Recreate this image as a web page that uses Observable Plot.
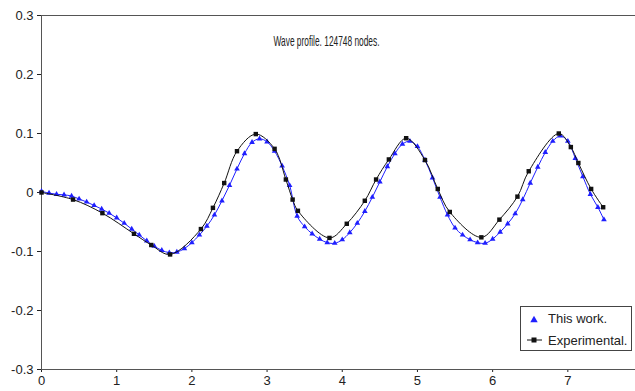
<!DOCTYPE html>
<html>
<head>
<meta charset="utf-8">
<script src="https://cdn.jsdelivr.net/npm/d3@7"></script>
<script src="https://cdn.jsdelivr.net/npm/@observablehq/plot@0.6"></script>
<style>
  html, body { margin: 0; padding: 0; background: #fff; }
  #chart { position: relative; width: 635px; height: 391px; }
</style>
</head>
<body>
<div id="chart"></div>
<script>
const title = "Wave profile. 124748 nodes.";
const seriesNames = ["This work.", "Experimental."];

// Experimental (black squares)
const expX = [0, 0.42, 0.81, 1.23, 1.46, 1.71, 2.12, 2.28, 2.43, 2.60, 2.85, 3.10, 3.25, 3.34, 3.41, 3.83, 4.06, 4.30, 4.45, 4.62, 4.85, 5.10, 5.27, 5.43, 5.85, 6.09, 6.33, 6.48, 6.88, 7.04, 7.14, 7.31, 7.47];
const expY = [0, -0.012, -0.035, -0.070, -0.089, -0.105, -0.062, -0.026, 0.016, 0.070, 0.099, 0.074, 0.022, -0.012, -0.031, -0.077, -0.053, -0.014, 0.022, 0.056, 0.092, 0.055, 0.006, -0.033, -0.076, -0.046, -0.007, 0.036, 0.100, 0.077, 0.050, 0.006, -0.025];

// This work (blue triangles)
const workX = [0.0,0.1,0.2,0.3,0.4,0.5,0.6,0.7,0.8,0.9,1.0,1.1,1.2,1.3,1.4,1.5,1.6,1.7,1.8,1.9,2.0,2.1,2.2,2.3,2.4,2.5,2.6,2.7,2.8,2.9,3.0,3.1,3.2,3.3,3.4,3.5,3.6,3.7,3.8,3.9,4.0,4.1,4.2,4.3,4.4,4.5,4.6,4.7,4.8,4.9,5.0,5.1,5.2,5.3,5.4,5.5,5.6,5.7,5.8,5.9,6.0,6.1,6.2,6.3,6.4,6.5,6.6,6.7,6.8,6.9,7.0,7.1,7.2,7.3,7.4,7.48];
const workY = [0.002,-0.001,-0.003,-0.004,-0.006,-0.011,-0.016,-0.022,-0.028,-0.035,-0.043,-0.052,-0.062,-0.072,-0.082,-0.091,-0.098,-0.102,-0.101,-0.095,-0.085,-0.072,-0.057,-0.038,-0.014,0.012,0.040,0.066,0.085,0.091,0.086,0.070,0.045,0.012,-0.040,-0.058,-0.070,-0.079,-0.085,-0.086,-0.080,-0.068,-0.052,-0.032,-0.008,0.018,0.044,0.066,0.082,0.087,0.078,0.055,0.025,-0.008,-0.038,-0.060,-0.072,-0.080,-0.085,-0.086,-0.079,-0.067,-0.053,-0.036,-0.012,0.016,0.043,0.068,0.087,0.096,0.087,0.058,0.027,-0.003,-0.025,-0.046];

const xTicks = [0, 1, 2, 3, 4, 5, 6, 7];
const yTicks = [-0.3, -0.2, -0.1, 0, 0.1, 0.2, 0.3];

const exp = expX.map((x, i) => ({x, y: expY[i]}));
const work = workX.map((x, i) => ({x, y: workY[i]}));

const blue = "#1f1fff";
const black = "#111";
const axisColor = "#555";

const yFmt = d => d === 0 ? "0" : d.toFixed(1);
const xFmt = d => String(d);

const plot = Plot.plot({
  width: 635,
  height: 391,
  marginLeft: 41,
  marginRight: 0,
  marginTop: 15,
  marginBottom: 22,
  style: {fontFamily: "'Liberation Sans', Arial, sans-serif", fontSize: "13px", color: "#222", background: "#fff"},
  x: {domain: [0, 7.9], ticks: xTicks, tickFormat: xFmt, tickSize: 3, tickPadding: 3, label: null},
  y: {domain: [-0.3, 0.3], ticks: yTicks, tickFormat: yFmt, tickSize: 4, tickPadding: 4, label: null},
  marks: [
    Plot.ruleY([0.3], {stroke: axisColor, strokeWidth: 1}),
    Plot.ruleY([-0.3], {stroke: axisColor, strokeWidth: 1}),
    Plot.ruleX([0], {stroke: axisColor, strokeWidth: 1}),
    Plot.line(work, {x: "x", y: "y", stroke: blue, strokeWidth: 1, curve: "catmull-rom"}),
    Plot.dot(work, {x: "x", y: "y", symbol: "triangle", r: 2.1, fill: blue, stroke: "none"}),
    Plot.line(exp, {x: "x", y: "y", stroke: black, strokeWidth: 1, curve: "catmull-rom"}),
    Plot.dot(exp, {x: "x", y: "y", symbol: "square", r: 2.5, fill: black, stroke: "none"}),
    Plot.text([title], {frameAnchor: "top", dx: -12, dy: 20, fontSize: 15, fill: "#222", text: d => d})
  ]
});

document.getElementById("chart").appendChild(plot);

// Condense the title like the original narrow font
d3.select(plot).selectAll("text").filter(function() { return this.textContent === title; })
  .attr("textLength", 106).attr("lengthAdjust", "spacingAndGlyphs");

// Legend box
const svg = d3.select(plot);
const g = svg.append("g")
  .attr("font-family", "'Liberation Sans', Arial, sans-serif")
  .attr("font-size", 13)
  .attr("text-anchor", "start");
g.append("rect").attr("x", 520.5).attr("y", 306.5).attr("width", 111).attr("height", 44)
  .attr("fill", "#fff").attr("stroke", "#444").attr("stroke-width", 1);
g.append("path").attr("d", d3.symbol(d3.symbolTriangle, 24)()).attr("transform", "translate(534,320)").attr("fill", blue);
g.append("text").attr("x", 548).attr("y", 322.5).attr("fill", "#222").attr("text-anchor", "start").text(seriesNames[0]);
g.append("line").attr("x1", 527).attr("x2", 542).attr("y1", 340).attr("y2", 340).attr("stroke", black);
g.append("rect").attr("x", 531.5).attr("y", 337.5).attr("width", 5).attr("height", 5).attr("fill", black);
g.append("text").attr("x", 548).attr("y", 344.5).attr("fill", "#222").attr("text-anchor", "start").text(seriesNames[1]);
</script>
</body>
</html>
